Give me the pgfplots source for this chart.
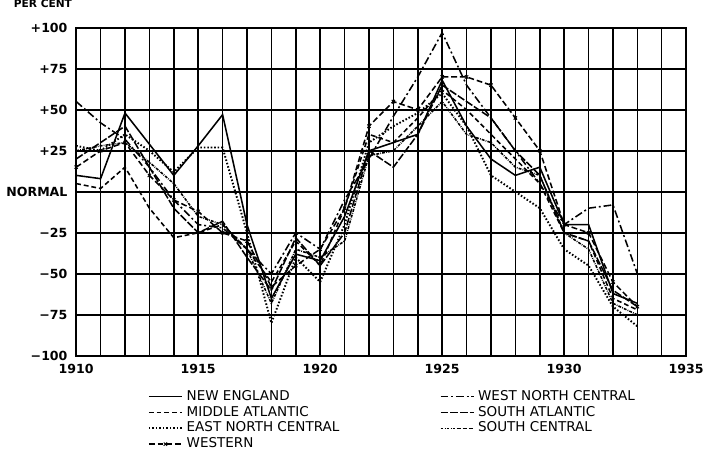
\documentclass[border=0pt]{standalone}
\usepackage{fontspec}
\setmainfont{DejaVu Sans}
\usepackage{pgfplots}
\pgfplotsset{compat=1.18}
\begin{document}
\begin{tikzpicture}
\begin{axis}[
  scale only axis,
  width=316pt, height=170pt,
  xmin=1910, xmax=1935,
  ymin=-100, ymax=100,
  xtick={1910,...,1935},
  xticklabels={1910,,,,,1915,,,,,1920,,,,,1925,,,,,1930,,,,,1935},
  ytick={-100,-75,...,100},
  yticklabels={−100,−75,−50,−25,NORMAL,+25,+50,+75,+100},
  grid=major,
  major grid style={black, line width=0.8pt},
  axis line style={black, line width=0.9pt},
  major tick length=0pt,
  tick label style={font=\fontsize{6.5}{7}\selectfont\bfseries},
  yticklabel style={xshift=-1pt},
  xticklabel style={yshift=-1pt},
  clip=false,
  legend columns=2,
  legend style={draw=none, fill=none, at={(0.52,-0.08)}, anchor=north,
    font=\fontsize{7}{8}\selectfont, row sep=-2.5pt,
    /tikz/every even column/.append style={column sep=50pt}},
  legend cell align=left,
  every axis plot/.append style={black, line width=0.8pt},
]
% New England
\addplot[solid] coordinates {
(1910,10)(1911,8)(1912,48)(1913,29)(1914,10)(1915,28)(1916,47)(1917,-20)(1918,-65)(1919,-38)(1920,-42)(1921,-15)
(1922,25)(1923,30)(1924,35)(1925,68)(1926,40)(1927,20)(1928,10)(1929,15)(1930,-20)(1931,-20)(1932,-62)(1933,-68)};
\addlegendentry{NEW ENGLAND}
% West North Central
\addplot[dash pattern=on 4pt off 1.5pt on 1pt off 1.5pt] coordinates {
(1910,55)(1911,42)(1912,32)(1913,15)(1914,-5)(1915,-20)(1916,-22)(1917,-35)(1918,-50)(1919,-25)(1920,-35)(1921,-5)
(1922,20)(1923,46)(1924,70)(1925,97)(1926,65)(1927,45)(1928,25)(1929,5)(1930,-20)(1931,-10)(1932,-8)(1933,-50)};
\addlegendentry{WEST NORTH CENTRAL}
% Middle Atlantic
\addplot[dash pattern=on 2.5pt off 1.5pt] coordinates {
(1910,5)(1911,2)(1912,15)(1913,-10)(1914,-28)(1915,-25)(1916,-20)(1917,-35)(1918,-55)(1919,-30)(1920,-45)(1921,-10)
(1922,35)(1923,30)(1924,45)(1925,62)(1926,50)(1927,35)(1928,20)(1929,5)(1930,-25)(1931,-30)(1932,-65)(1933,-72)};
\addlegendentry{MIDDLE ATLANTIC}
% South Atlantic
\addplot[dash pattern=on 4pt off 1pt] coordinates {
(1910,20)(1911,30)(1912,40)(1913,15)(1914,-10)(1915,-25)(1916,-18)(1917,-40)(1918,-60)(1919,-28)(1920,-45)(1921,-25)
(1922,25)(1923,15)(1924,35)(1925,65)(1926,55)(1927,45)(1928,25)(1929,10)(1930,-25)(1931,-30)(1932,-60)(1933,-70)};
\addlegendentry{SOUTH ATLANTIC}
% East North Central
\addplot[densely dotted, line width=1pt] coordinates {
(1910,28)(1911,25)(1912,35)(1913,25)(1914,12)(1915,27)(1916,27)(1917,-25)(1918,-80)(1919,-40)(1920,-55)(1921,-20)
(1922,30)(1923,40)(1924,48)(1925,60)(1926,40)(1927,10)(1928,0)(1929,-10)(1930,-35)(1931,-45)(1932,-70)(1933,-82)};
\addlegendentry{EAST NORTH CENTRAL}
% South Central
\addplot[dash pattern=on 1.5pt off 0.6pt on 0.4pt off 0.6pt] coordinates {
(1910,25)(1911,28)(1912,30)(1913,18)(1914,5)(1915,-15)(1916,-20)(1917,-35)(1918,-68)(1919,-35)(1920,-40)(1921,-30)
(1922,22)(1923,25)(1924,40)(1925,55)(1926,35)(1927,30)(1928,15)(1929,10)(1930,-25)(1931,-35)(1932,-68)(1933,-75)};
\addlegendentry{SOUTH CENTRAL}
% Western
\addplot[dash pattern=on 3pt off 1.5pt, mark=x, mark size=1.2pt, mark options={solid, line width=0.5pt}] coordinates {
(1910,15)(1911,25)(1912,30)(1913,10)(1914,-5)(1915,-12)(1916,-25)(1917,-30)(1918,-58)(1919,-45)(1920,-35)(1921,-10)
(1922,40)(1923,55)(1924,50)(1925,70)(1926,70)(1927,65)(1928,45)(1929,25)(1930,-20)(1931,-25)(1932,-55)(1933,-70)};
\addlegendentry{WESTERN}
\node[anchor=south east, font=\fontsize{5.5}{6}\selectfont\bfseries, inner sep=0pt] at ([xshift=-2pt,yshift=10pt]rel axis cs:0,1) {PER CENT};
\end{axis}
\end{tikzpicture}
\end{document}
